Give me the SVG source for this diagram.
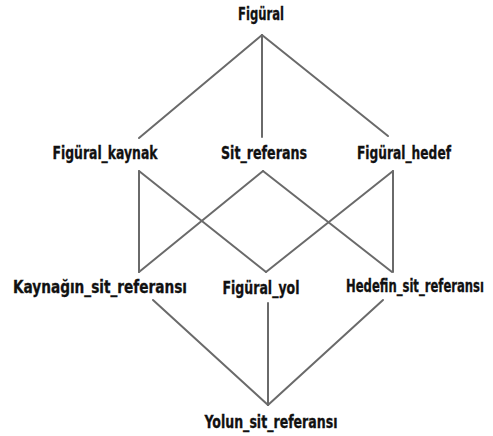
<svg xmlns="http://www.w3.org/2000/svg" width="493" height="436" viewBox="0 0 493 436">
<style>
.l{stroke:#6a6a6a;stroke-width:2;fill:none;stroke-linecap:round}
.t{font-family:"DejaVu Sans Condensed","DejaVu Sans",sans-serif;font-weight:bold;font-size:17px;fill:#111;stroke:#111;stroke-width:0.3;text-anchor:middle}
</style>
<rect width="493" height="436" fill="#fff"/>
<g id="connectors">
<line class="l" x1="262" y1="35" x2="139" y2="138"/>
<line class="l" x1="262" y1="35" x2="262" y2="137"/>
<line class="l" x1="262" y1="35" x2="388" y2="136"/>
<line class="l" x1="139" y1="171" x2="139" y2="272"/>
<line class="l" x1="139" y1="171" x2="266" y2="272"/>
<line class="l" x1="263" y1="171" x2="139" y2="272"/>
<line class="l" x1="263" y1="171" x2="392" y2="272"/>
<line class="l" x1="393" y1="171" x2="266" y2="272"/>
<line class="l" x1="393" y1="171" x2="393" y2="272"/>
<line class="l" x1="153" y1="300" x2="268" y2="405"/>
<line class="l" x1="268" y1="303" x2="268" y2="405"/>
<line class="l" x1="383" y1="300" x2="268" y2="405"/>
</g>
<g id="figural"><text class="t" x="261" y="20" textLength="46" lengthAdjust="spacingAndGlyphs">Figüral</text></g>
<g id="figural_kaynak"><text class="t" x="105" y="159" textLength="105" lengthAdjust="spacingAndGlyphs">Figüral_kaynak</text></g>
<g id="sit_referans"><text class="t" x="264" y="159" textLength="86" lengthAdjust="spacingAndGlyphs">Sit_referans</text></g>
<g id="figural_hedef"><text class="t" x="404" y="159" textLength="94" lengthAdjust="spacingAndGlyphs">Figüral_hedef</text></g>
<g id="kaynagin_sit_referansi"><text class="t" x="100" y="293" textLength="174" lengthAdjust="spacingAndGlyphs">Kaynağın_sit_referansı</text></g>
<g id="figural_yol"><text class="t" x="261" y="294" textLength="77" lengthAdjust="spacingAndGlyphs">Figüral_yol</text></g>
<g id="hedefin_sit_referansi"><text class="t" transform="translate(415,292) scale(0.75,1)" x="0" y="0" textLength="184" lengthAdjust="spacingAndGlyphs">Hedefin_sit_referansı</text></g>
<g id="yolun_sit_referansi"><text class="t" x="271" y="428" textLength="133" lengthAdjust="spacingAndGlyphs">Yolun_sit_referansı</text></g>
</svg>
